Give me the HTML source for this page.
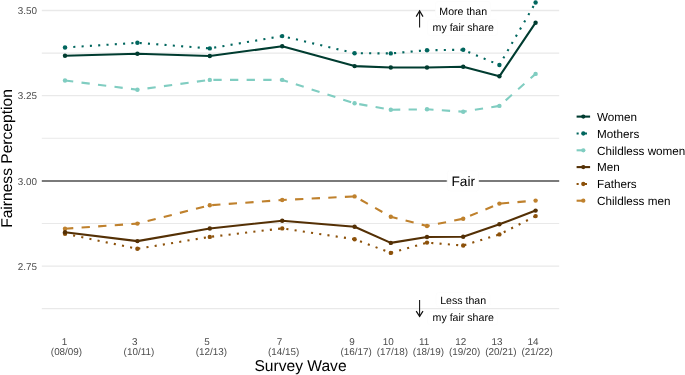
<!DOCTYPE html>
<html><head><meta charset="utf-8"><style>
html,body{margin:0;padding:0;background:#fff;width:685px;height:375px;overflow:hidden}
svg{display:block;will-change:transform}
text{font-family:"Liberation Sans",sans-serif;text-rendering:geometricPrecision}
.tick{font-size:9.9px;fill:#4D4D4D}
.ann{font-size:10.6px;fill:#000}
.fair{font-size:13.7px;fill:#000}
.title{font-size:15.6px;fill:#000}
.leg{font-size:11.7px;fill:#000}
</style></head><body>
<svg width="685" height="375" viewBox="0 0 685 375">
<line x1="41.8" y1="10.45" x2="559.2" y2="10.45" stroke="#E9E9E9" stroke-width="1.35"/>
<line x1="41.8" y1="53.06" x2="559.2" y2="53.06" stroke="#E9E9E9" stroke-width="1.2"/>
<line x1="41.8" y1="95.66" x2="559.2" y2="95.66" stroke="#E9E9E9" stroke-width="1.35"/>
<line x1="41.8" y1="138.27" x2="559.2" y2="138.27" stroke="#E9E9E9" stroke-width="1.2"/>
<line x1="41.8" y1="223.48" x2="559.2" y2="223.48" stroke="#E9E9E9" stroke-width="1.2"/>
<line x1="41.8" y1="266.09" x2="559.2" y2="266.09" stroke="#E9E9E9" stroke-width="1.35"/>
<line x1="41.8" y1="308.69" x2="559.2" y2="308.69" stroke="#E9E9E9" stroke-width="1.2"/>
<line x1="41.8" y1="180.88" x2="559.2" y2="180.88" stroke="#4E4E4E" stroke-width="1.5"/>
<text x="37.0" y="14.20" class="tick" text-anchor="end">3.50</text>
<text x="37.0" y="99.41" class="tick" text-anchor="end">3.25</text>
<text x="37.0" y="184.62" class="tick" text-anchor="end">3.00</text>
<text x="37.0" y="269.84" class="tick" text-anchor="end">2.75</text>
<polyline points="65.00,55.80 137.40,53.70 209.80,56.00 282.20,46.30 354.60,66.10 390.80,67.50 427.00,67.50 463.20,66.70 499.40,76.30 535.60,22.70" fill="none" stroke="#003C30" stroke-width="2.1" stroke-linejoin="round" stroke-linecap="butt" />
<polyline points="65.00,47.50 137.40,42.80 209.80,48.40 282.20,36.10 354.60,53.20 390.80,53.40 427.00,50.20 463.20,49.80 499.40,65.00 535.60,2.55" fill="none" stroke="#01665E" stroke-width="2.1" stroke-linejoin="round" stroke-linecap="butt" stroke-dasharray="2.078 6.234"/>
<polyline points="65.00,80.50 137.40,89.70 209.80,79.90 282.20,79.90 354.60,103.30 390.80,109.80 427.00,109.30 463.20,111.70 499.40,105.90 535.60,73.90" fill="none" stroke="#80CDC1" stroke-width="2.1" stroke-linejoin="round" stroke-linecap="butt" stroke-dasharray="8.312 8.312"/>
<polyline points="65.00,232.30 137.40,241.10 209.80,228.50 282.20,220.70 354.60,226.80 390.80,242.90 427.00,237.00 463.20,236.70 499.40,224.30 535.60,210.60" fill="none" stroke="#543005" stroke-width="2.1" stroke-linejoin="round" stroke-linecap="butt" />
<polyline points="65.00,233.70 137.40,248.80 209.80,236.90 282.20,228.40 354.60,239.20 390.80,252.90 427.00,242.60 463.20,245.50 499.40,234.40 535.60,216.10" fill="none" stroke="#8C510A" stroke-width="2.1" stroke-linejoin="round" stroke-linecap="butt" stroke-dasharray="2.078 6.234"/>
<polyline points="65.00,228.70 137.40,223.60 209.80,205.30 282.20,200.00 354.60,196.40 390.80,216.70 427.00,226.00 463.20,218.70 499.40,203.60 535.60,200.60" fill="none" stroke="#BF812D" stroke-width="2.1" stroke-linejoin="round" stroke-linecap="butt" stroke-dasharray="8.312 8.312"/>
<circle cx="65.00" cy="228.70" r="2.2" fill="#BF812D"/>
<circle cx="137.40" cy="223.60" r="2.2" fill="#BF812D"/>
<circle cx="209.80" cy="205.30" r="2.2" fill="#BF812D"/>
<circle cx="282.20" cy="200.00" r="2.2" fill="#BF812D"/>
<circle cx="354.60" cy="196.40" r="2.2" fill="#BF812D"/>
<circle cx="390.80" cy="216.70" r="2.2" fill="#BF812D"/>
<circle cx="427.00" cy="226.00" r="2.2" fill="#BF812D"/>
<circle cx="463.20" cy="218.70" r="2.2" fill="#BF812D"/>
<circle cx="499.40" cy="203.60" r="2.2" fill="#BF812D"/>
<circle cx="535.60" cy="200.60" r="2.2" fill="#BF812D"/>
<circle cx="65.00" cy="80.50" r="2.2" fill="#80CDC1"/>
<circle cx="137.40" cy="89.70" r="2.2" fill="#80CDC1"/>
<circle cx="209.80" cy="79.90" r="2.2" fill="#80CDC1"/>
<circle cx="282.20" cy="79.90" r="2.2" fill="#80CDC1"/>
<circle cx="354.60" cy="103.30" r="2.2" fill="#80CDC1"/>
<circle cx="390.80" cy="109.80" r="2.2" fill="#80CDC1"/>
<circle cx="427.00" cy="109.30" r="2.2" fill="#80CDC1"/>
<circle cx="463.20" cy="111.70" r="2.2" fill="#80CDC1"/>
<circle cx="499.40" cy="105.90" r="2.2" fill="#80CDC1"/>
<circle cx="535.60" cy="73.90" r="2.2" fill="#80CDC1"/>
<circle cx="65.00" cy="233.70" r="2.2" fill="#8C510A"/>
<circle cx="137.40" cy="248.80" r="2.2" fill="#8C510A"/>
<circle cx="209.80" cy="236.90" r="2.2" fill="#8C510A"/>
<circle cx="282.20" cy="228.40" r="2.2" fill="#8C510A"/>
<circle cx="354.60" cy="239.20" r="2.2" fill="#8C510A"/>
<circle cx="390.80" cy="252.90" r="2.2" fill="#8C510A"/>
<circle cx="427.00" cy="242.60" r="2.2" fill="#8C510A"/>
<circle cx="463.20" cy="245.50" r="2.2" fill="#8C510A"/>
<circle cx="499.40" cy="234.40" r="2.2" fill="#8C510A"/>
<circle cx="535.60" cy="216.10" r="2.2" fill="#8C510A"/>
<circle cx="65.00" cy="232.30" r="2.2" fill="#543005"/>
<circle cx="137.40" cy="241.10" r="2.2" fill="#543005"/>
<circle cx="209.80" cy="228.50" r="2.2" fill="#543005"/>
<circle cx="282.20" cy="220.70" r="2.2" fill="#543005"/>
<circle cx="354.60" cy="226.80" r="2.2" fill="#543005"/>
<circle cx="390.80" cy="242.90" r="2.2" fill="#543005"/>
<circle cx="427.00" cy="237.00" r="2.2" fill="#543005"/>
<circle cx="463.20" cy="236.70" r="2.2" fill="#543005"/>
<circle cx="499.40" cy="224.30" r="2.2" fill="#543005"/>
<circle cx="535.60" cy="210.60" r="2.2" fill="#543005"/>
<circle cx="65.00" cy="47.50" r="2.2" fill="#01665E"/>
<circle cx="137.40" cy="42.80" r="2.2" fill="#01665E"/>
<circle cx="209.80" cy="48.40" r="2.2" fill="#01665E"/>
<circle cx="282.20" cy="36.10" r="2.2" fill="#01665E"/>
<circle cx="354.60" cy="53.20" r="2.2" fill="#01665E"/>
<circle cx="390.80" cy="53.40" r="2.2" fill="#01665E"/>
<circle cx="427.00" cy="50.20" r="2.2" fill="#01665E"/>
<circle cx="463.20" cy="49.80" r="2.2" fill="#01665E"/>
<circle cx="499.40" cy="65.00" r="2.2" fill="#01665E"/>
<circle cx="535.60" cy="2.55" r="2.2" fill="#01665E"/>
<circle cx="65.00" cy="55.80" r="2.2" fill="#003C30"/>
<circle cx="137.40" cy="53.70" r="2.2" fill="#003C30"/>
<circle cx="209.80" cy="56.00" r="2.2" fill="#003C30"/>
<circle cx="282.20" cy="46.30" r="2.2" fill="#003C30"/>
<circle cx="354.60" cy="66.10" r="2.2" fill="#003C30"/>
<circle cx="390.80" cy="67.50" r="2.2" fill="#003C30"/>
<circle cx="427.00" cy="67.50" r="2.2" fill="#003C30"/>
<circle cx="463.20" cy="66.70" r="2.2" fill="#003C30"/>
<circle cx="499.40" cy="76.30" r="2.2" fill="#003C30"/>
<circle cx="535.60" cy="22.70" r="2.2" fill="#003C30"/>
<rect x="435.5" y="1.5" width="55.00" height="16.00" rx="2.5" fill="#fff" stroke="#fcfcfc" stroke-width="0.7"/>
<text x="463.2" y="14.5" class="ann" text-anchor="middle">More than</text>
<rect x="427.5" y="19.5" width="70.00" height="16.00" rx="2.5" fill="#fff" stroke="#fcfcfc" stroke-width="0.7"/>
<text x="463.2" y="31.3" class="ann" text-anchor="middle">my fair share</text>
<rect x="436" y="292.5" width="54.00" height="14.50" rx="2.5" fill="#fff" stroke="#fcfcfc" stroke-width="0.7"/>
<text x="463.2" y="304.0" class="ann" text-anchor="middle">Less than</text>
<rect x="427.5" y="311.5" width="70.00" height="13.50" rx="2.5" fill="#fff" stroke="#fcfcfc" stroke-width="0.7"/>
<text x="463.2" y="320.5" class="ann" text-anchor="middle">my fair share</text>
<rect x="447.2" y="170.8" width="31.40" height="20.20" rx="2.5" fill="#fff" stroke="#fcfcfc" stroke-width="0.7"/>
<text x="463.2" y="186.3" class="fair" text-anchor="middle">Fair</text>
<line x1="419.6" y1="10.5" x2="419.6" y2="27.6" stroke="#111" stroke-width="1.05"/><polyline points="416.20000000000005,16.6 419.6,10.9 423.0,16.6" fill="none" stroke="#111" stroke-width="1.2" stroke-linejoin="miter"/>
<line x1="419.6" y1="300.1" x2="419.6" y2="316.8" stroke="#111" stroke-width="1.05"/><polyline points="416.20000000000005,311.2 419.6,316.40000000000003 423.0,311.2" fill="none" stroke="#111" stroke-width="1.2" stroke-linejoin="miter"/>
<text x="64.40" y="344.8" class="tick" text-anchor="middle">1</text>
<text x="66.50" y="355.4" class="tick" text-anchor="middle">(08/09)</text>
<text x="134.80" y="344.8" class="tick" text-anchor="middle">3</text>
<text x="138.90" y="355.4" class="tick" text-anchor="middle">(10/11)</text>
<text x="207.00" y="344.8" class="tick" text-anchor="middle">5</text>
<text x="211.30" y="355.4" class="tick" text-anchor="middle">(12/13)</text>
<text x="279.40" y="344.8" class="tick" text-anchor="middle">7</text>
<text x="283.70" y="355.4" class="tick" text-anchor="middle">(14/15)</text>
<text x="351.90" y="344.8" class="tick" text-anchor="middle">9</text>
<text x="356.10" y="355.4" class="tick" text-anchor="middle">(16/17)</text>
<text x="388.30" y="344.8" class="tick" text-anchor="middle">10</text>
<text x="392.30" y="355.4" class="tick" text-anchor="middle">(17/18)</text>
<text x="424.10" y="344.8" class="tick" text-anchor="middle">11</text>
<text x="428.50" y="355.4" class="tick" text-anchor="middle">(18/19)</text>
<text x="460.80" y="344.8" class="tick" text-anchor="middle">12</text>
<text x="464.70" y="355.4" class="tick" text-anchor="middle">(19/20)</text>
<text x="497.10" y="344.8" class="tick" text-anchor="middle">13</text>
<text x="500.90" y="355.4" class="tick" text-anchor="middle">(20/21)</text>
<text x="533.00" y="344.8" class="tick" text-anchor="middle">14</text>
<text x="537.10" y="355.4" class="tick" text-anchor="middle">(21/22)</text>
<text x="300.5" y="371.2" class="title" text-anchor="middle">Survey Wave</text>
<text transform="translate(12.0,158.5) rotate(-90)" class="title" text-anchor="middle">Fairness Perception</text>
<line x1="576.6" y1="116.6" x2="590.1" y2="116.6" stroke="#003C30" stroke-width="2.1" stroke-linecap="butt" />
<circle cx="583.3" cy="116.6" r="2.15" fill="#003C30"/>
<text x="597.0" y="120.90" class="leg">Women</text>
<line x1="576.6" y1="133.5" x2="590.1" y2="133.5" stroke="#01665E" stroke-width="2.1" stroke-linecap="butt" stroke-dasharray="2.078 6.234"/>
<circle cx="583.3" cy="133.5" r="2.15" fill="#01665E"/>
<text x="597.0" y="137.80" class="leg">Mothers</text>
<line x1="576.6" y1="150.3" x2="590.1" y2="150.3" stroke="#80CDC1" stroke-width="2.1" stroke-linecap="butt" stroke-dasharray="8.312 8.312"/>
<circle cx="583.3" cy="150.3" r="2.15" fill="#80CDC1"/>
<text x="597.0" y="154.60" class="leg">Childless women</text>
<line x1="576.6" y1="167.1" x2="590.1" y2="167.1" stroke="#543005" stroke-width="2.1" stroke-linecap="butt" />
<circle cx="583.3" cy="167.1" r="2.15" fill="#543005"/>
<text x="597.0" y="171.40" class="leg">Men</text>
<line x1="576.6" y1="184.0" x2="590.1" y2="184.0" stroke="#8C510A" stroke-width="2.1" stroke-linecap="butt" stroke-dasharray="2.078 6.234"/>
<circle cx="583.3" cy="184.0" r="2.15" fill="#8C510A"/>
<text x="597.0" y="188.30" class="leg">Fathers</text>
<line x1="576.6" y1="200.7" x2="590.1" y2="200.7" stroke="#BF812D" stroke-width="2.1" stroke-linecap="butt" stroke-dasharray="8.312 8.312"/>
<circle cx="583.3" cy="200.7" r="2.15" fill="#BF812D"/>
<text x="597.0" y="205.00" class="leg">Childless men</text>
</svg>
</body></html>
